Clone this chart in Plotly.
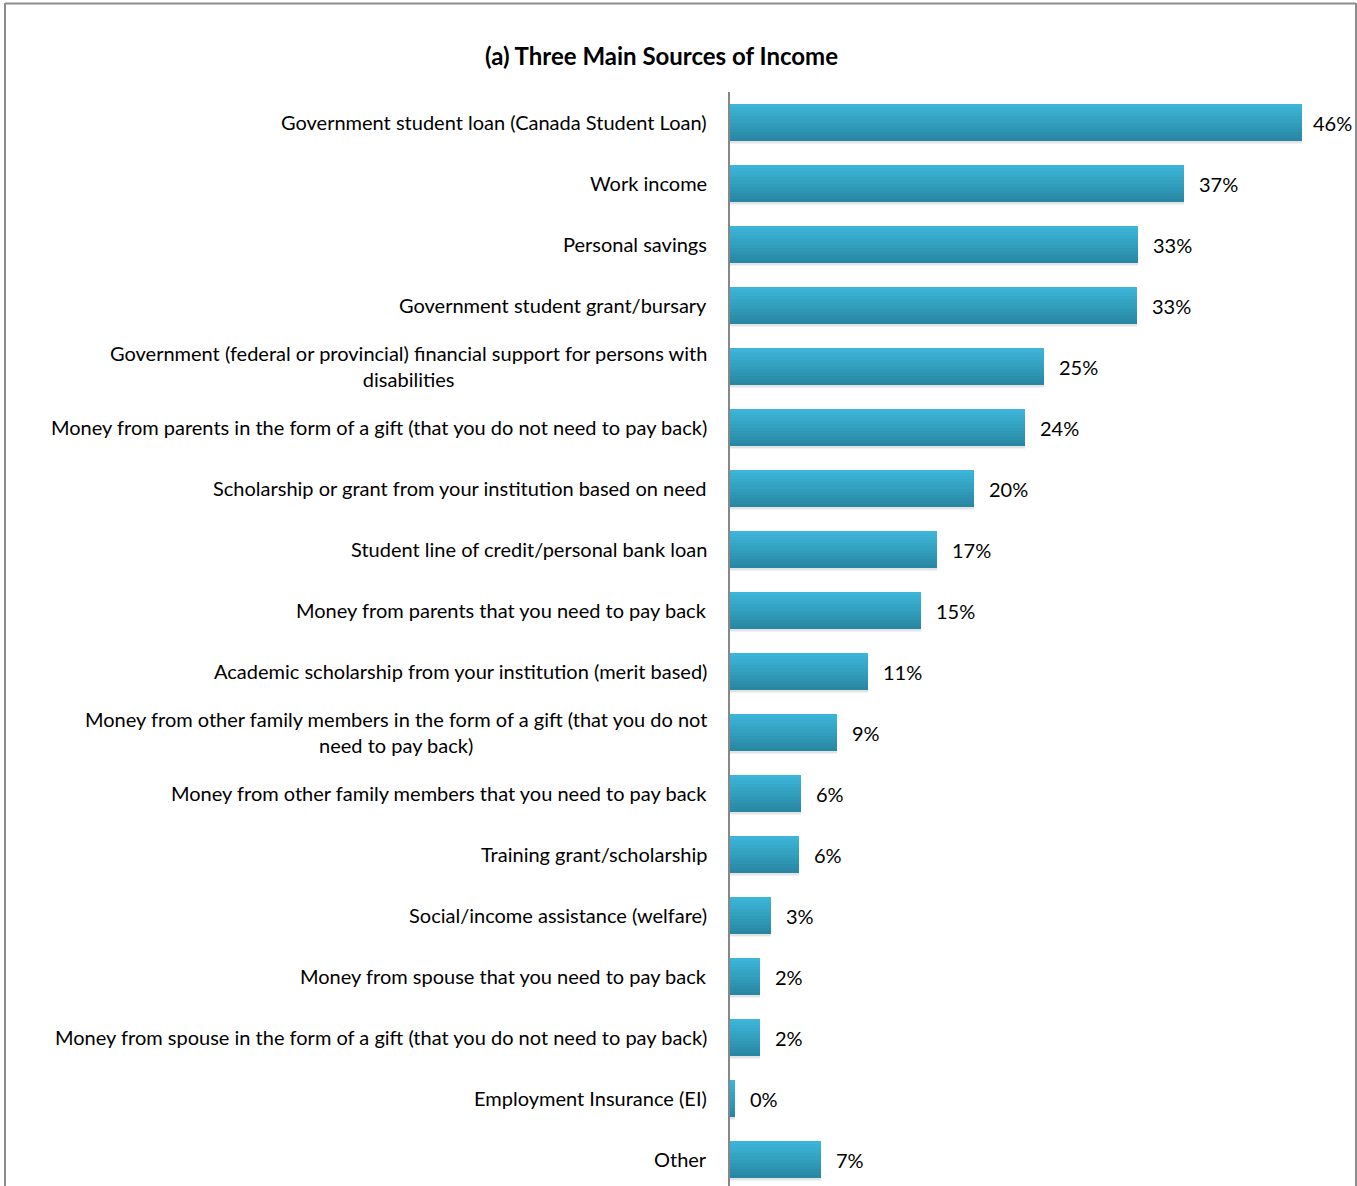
import plotly.graph_objects as go

# Survey results: share of respondents citing each item among their three main sources of income
categories = [
    "Government student loan (Canada Student Loan)",
    "Work income",
    "Personal savings",
    "Government student grant/bursary",
    "Government (federal or provincial) financial support for persons with<br>disabilities",
    "Money from parents in the form of a gift (that you do not need to pay back)",
    "Scholarship or grant from your institution based on need",
    "Student line of credit/personal bank loan",
    "Money from parents that you need to pay back",
    "Academic scholarship from your institution (merit based)",
    "Money from other family members in the form of a gift (that you do not<br>need to pay back)",
    "Money from other family members that you need to pay back",
    "Training grant/scholarship",
    "Social/income assistance (welfare)",
    "Money from spouse that you need to pay back",
    "Money from spouse in the form of a gift (that you do not need to pay back)",
    "Employment Insurance (EI)",
    "Other",
]
values = [46.1, 36.6, 32.9, 32.8, 25.3, 23.8, 19.7, 16.7, 15.4, 11.1,
          8.6, 5.7, 5.6, 3.3, 2.4, 2.4, 0.4, 7.3]

title_text = "(a) Three Main Sources of Income"

# ---- layout geometry ----
W_FIG, H_FIG = 1357, 1186
M_L, M_T = 730, 92
PLOT_W = W_FIG - M_L
PLOT_H = H_FIG - M_T
PX_PER_PCT = 12.4
ROW_PX = 61.0
X_MAX = PLOT_W / PX_PER_PCT
Y_BOTTOM = -0.5 + PLOT_H / ROW_PX

FONT = "Lato, 'Open Sans', sans-serif"
BAR_W = 0.6
top_rgb = (60, 181, 216)
bot_rgb = (40, 136, 164)
N_BANDS = 12

fig = go.Figure()

# soft drop shadow beneath each bar
for off, alpha in [(0.05, 0.05), (0.03, 0.06)]:
    fig.add_trace(go.Bar(
        y=categories, x=values, orientation="h",
        width=BAR_W, offset=-BAR_W / 2 + off,
        marker=dict(color=f"rgba(0,0,0,{alpha})", line=dict(width=0)),
        hoverinfo="skip", showlegend=False,
    ))

# vertical gradient fill, built as stacked horizontal bands
band = BAR_W / N_BANDS
for k in range(N_BANDS):
    t = k / (N_BANDS - 1)
    r, g, b = (round(top_rgb[j] + (bot_rgb[j] - top_rgb[j]) * t) for j in range(3))
    fig.add_trace(go.Bar(
        y=categories, x=values, orientation="h",
        width=band * 1.05, offset=-BAR_W / 2 + k * band,
        marker=dict(color=f"rgb({r},{g},{b})", line=dict(width=0)),
        hoverinfo="skip", showlegend=False,
    ))

annotations = []
# category labels, centred line by line and right-aligned to the axis
for cat in categories:
    annotations.append(dict(
        x=0, xref="paper", y=cat, yref="y", text=cat,
        xanchor="right", yanchor="middle", align="center", xshift=-21, yshift=1,
        showarrow=False, font=dict(family=FONT, size=20, color="#000000"),
    ))
# value labels; pulled in a little where they would run into the frame
for cat, v in zip(categories, values):
    end_px = M_L + v * PX_PER_PCT
    gap = 13 if end_px + 13 + 40 < W_FIG - 6 else 9
    annotations.append(dict(
        x=v, xref="x", y=cat, yref="y", text=f"{v:.0f}%",
        xanchor="left", yanchor="middle", xshift=gap, yshift=0,
        showarrow=False, font=dict(family=FONT, size=20, color="#000000"),
    ))
# chart title
annotations.append(dict(
    x=(661 - M_L) / PLOT_W, xref="paper", y=(H_FIG - 56) / PLOT_H, yref="paper",
    text=f"<b>{title_text}</b>", xanchor="center", yanchor="middle",
    showarrow=False, font=dict(family=FONT, size=24, color="#000000"),
))

# outer frame of the chart area
def px_x(px):
    return (px - M_L) / PLOT_W

def px_y(py):
    return (H_FIG - py) / PLOT_H

shapes = [
    dict(type="line", xref="paper", yref="paper",
         x0=px_x(5), x1=px_x(5), y0=px_y(3), y1=px_y(1200),
         line=dict(color="#8c8c8c", width=2)),
    dict(type="line", xref="paper", yref="paper",
         x0=px_x(5), x1=px_x(1356), y0=px_y(3.5), y1=px_y(3.5),
         line=dict(color="#8c8c8c", width=2)),
    dict(type="line", xref="paper", yref="paper",
         x0=px_x(1356), x1=px_x(1356), y0=px_y(3), y1=px_y(1200),
         line=dict(color="#8c8c8c", width=2)),
]

fig.update_layout(
    width=W_FIG, height=H_FIG,
    margin=dict(l=M_L, r=0, t=M_T, b=0, pad=0),
    paper_bgcolor="white", plot_bgcolor="white",
    barmode="overlay", bargap=0,
    showlegend=False,
    annotations=annotations,
    shapes=shapes,
    xaxis=dict(range=[0, X_MAX], visible=False, fixedrange=True),
    yaxis=dict(
        type="category", categoryorder="array", categoryarray=categories,
        range=[Y_BOTTOM, -0.5], showticklabels=False, ticks="",
        showgrid=False, zeroline=False,
        showline=True, linecolor="#878787", linewidth=2, fixedrange=True,
    ),
    font=dict(family=FONT, color="#000000"),
)

fig.write_html("out.html")
